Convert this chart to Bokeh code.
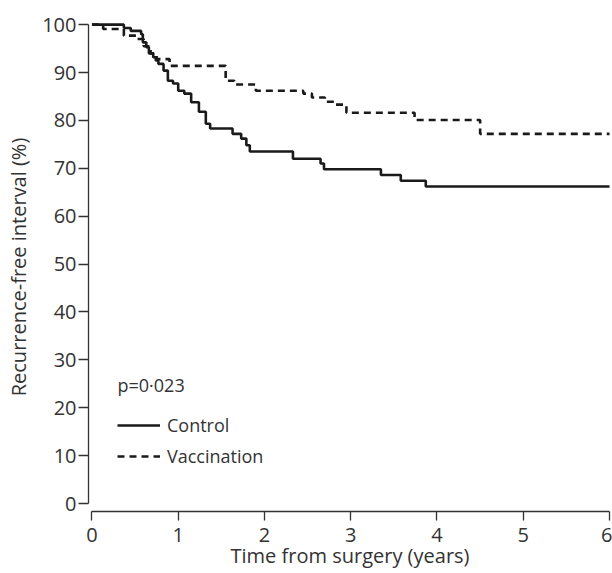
from bokeh.plotting import figure
from bokeh.models import Range1d, Legend, LegendItem, Label, FixedTicker
from bokeh.embed import file_html
from bokeh.resources import INLINE

# Kaplan-Meier steps (time in years, % recurrence-free after the step)
control_t = [0, 0.37, 0.45, 0.57, 0.59, 0.63, 0.66, 0.71, 0.74, 0.77, 0.83, 0.88, 0.94,
             1.00, 1.07, 1.15, 1.24, 1.32, 1.37, 1.63, 1.73, 1.79, 1.83, 2.33, 2.65,
             2.69, 3.35, 3.58, 3.87, 6.0]
control_s = [100, 99.3, 98.7, 98.0, 96.3, 95.3, 94.0, 93.2, 92.5, 91.8, 90.4, 88.3, 87.7,
             86.2, 85.6, 83.8, 81.8, 79.3, 78.3, 77.2, 76.2, 74.8, 73.5, 72.0, 71.0,
             69.8, 68.6, 67.4, 66.2, 66.2]

vacc_t = [0, 0.13, 0.37, 0.51, 0.60, 0.68, 0.75, 0.90, 1.55, 1.65, 1.90, 2.45, 2.55,
          2.70, 2.82, 2.95, 3.74, 4.50, 6.0]
vacc_s = [100, 99.1, 97.7, 97.0, 95.5, 94.0, 92.8, 91.4, 88.3, 87.5, 86.2, 85.6, 84.8,
          83.9, 83.3, 81.6, 80.1, 77.2, 77.2]

x_ticks = [0, 1, 2, 3, 4, 5, 6]
y_ticks = [0, 10, 20, 30, 40, 50, 60, 70, 80, 90, 100]

FONT = "Open Sans"
TXT = "#333333"

p = figure(width=612, height=573, output_backend="svg", toolbar_location=None,
           x_range=Range1d(-0.04, 6.023), y_range=Range1d(-1.67, 100.45),
           min_border_left=88, min_border_right=1, min_border_top=22, min_border_bottom=62)
p.outline_line_color = None
p.xgrid.grid_line_color = None
p.ygrid.grid_line_color = None
p.background_fill_color = "white"

for ax in (p.xaxis[0], p.yaxis[0]):
    ax.axis_line_color = TXT
    ax.axis_line_width = 1.3
    ax.major_tick_line_color = TXT
    ax.major_tick_line_width = 1.3
    ax.minor_tick_line_color = None
    ax.major_tick_in = 0
    ax.major_label_text_font = FONT
    ax.major_label_text_font_size = "20px"
    ax.major_label_text_color = TXT
    ax.axis_label_text_font = FONT
    ax.axis_label_text_font_size = "20px"
    ax.axis_label_text_font_style = "normal"
    ax.axis_label_text_color = TXT

p.xaxis.ticker = FixedTicker(ticks=x_ticks)
p.yaxis.ticker = FixedTicker(ticks=y_ticks)
p.xaxis.bounds = (0, 6)
p.yaxis.bounds = (0, 100)
p.xaxis.major_tick_out = 9
p.yaxis.major_tick_out = 10
p.xaxis.major_label_standoff = 7
p.yaxis.major_label_standoff = 2
p.xaxis.axis_label = "Time from surgery (years)"
p.yaxis.axis_label = "Recurrence-free interval (%)"
p.xaxis.axis_label_standoff = -3
p.yaxis.axis_label_standoff = 7

r_c = p.step(control_t, control_s, mode="after", line_color="#1a1a1a", line_width=2.6)
r_v = p.step(vacc_t, vacc_s, mode="after", line_color="#1a1a1a", line_width=2.6,
             line_dash="7 5")

legend = Legend(items=[LegendItem(label="Control", renderers=[r_c]),
                       LegendItem(label="Vaccination", renderers=[r_v])],
                location=(29, 43), orientation="vertical",
                glyph_width=43, glyph_height=20, label_height=20, label_standoff=7,
                spacing=7, padding=0, margin=0,
                border_line_alpha=0, background_fill_alpha=0,
                label_text_font=FONT, label_text_font_size="18px", label_text_color=TXT)
p.add_layout(legend, "center")

p.add_layout(Label(x=29, y=127, x_units="screen", y_units="screen", text="p=0\u00b7023",
                   text_font=FONT, text_font_size="18px", text_color=TXT,
                   text_baseline="middle"))

open("out.html", "w").write(file_html(p, INLINE))
